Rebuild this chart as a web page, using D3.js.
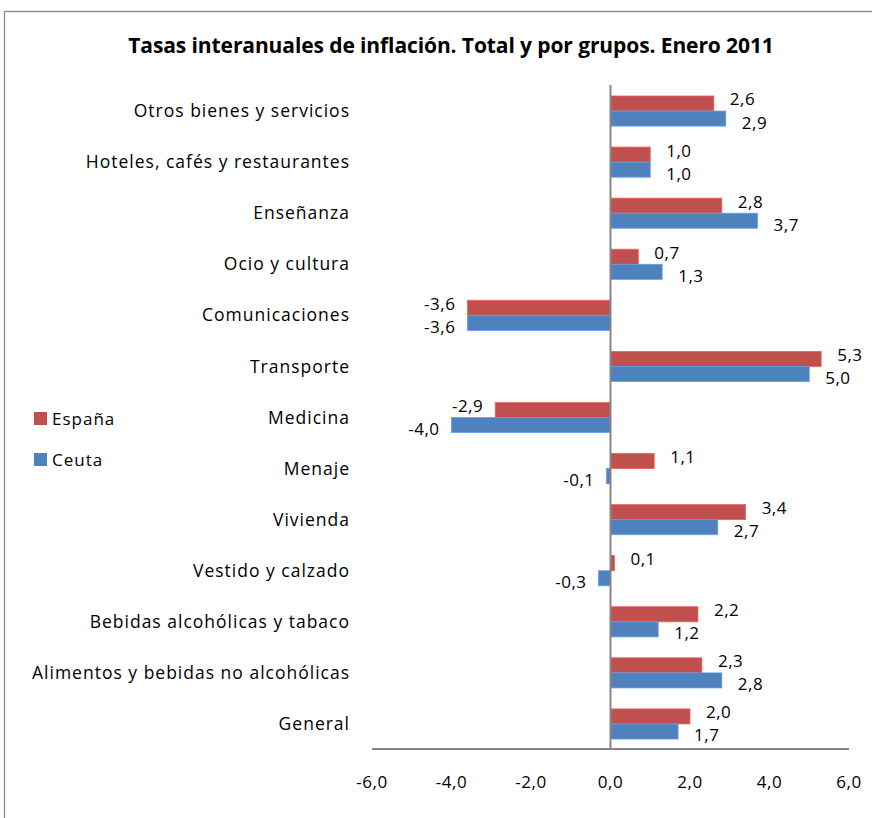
<!DOCTYPE html>
<html>
<head>
<meta charset="utf-8">
<script src="https://cdn.jsdelivr.net/npm/d3@7"></script>
<style>
  html, body { margin: 0; padding: 0; background: #fff; }
  svg { display: block; }
  text { font-family: "Open Sans", Lato, sans-serif; fill: #000; }
</style>
</head>
<body>
<script>
const title = "Tasas interanuales de inflación. Total y por grupos. Enero 2011";
const categories = [
  "Otros bienes y servicios",
  "Hoteles, cafés y restaurantes",
  "Enseñanza",
  "Ocio y cultura",
  "Comunicaciones",
  "Transporte",
  "Medicina",
  "Menaje",
  "Vivienda",
  "Vestido y calzado",
  "Bebidas alcohólicas y tabaco",
  "Alimentos y bebidas no alcohólicas",
  "General"
];
const espana = [2.6, 1.0, 2.8, 0.7, -3.6, 5.3, -2.9, 1.1, 3.4, 0.1, 2.2, 2.3, 2.0];
const ceuta  = [2.9, 1.0, 3.7, 1.3, -3.6, 5.0, -4.0, -0.1, 2.7, -0.3, 1.2, 2.8, 1.7];
const seriesNames = ["España", "Ceuta"];
const seriesColors = ["#C0504D", "#4F81BD"];
const xTicks = [-6, -4, -2, 0, 2, 4, 6];

const W = 872, H = 818;
const svg = d3.select("body").append("svg").attr("width", W).attr("height", H);

// chart border
svg.append("rect").attr("x", 4.5).attr("y", 11.5).attr("width", W + 10).attr("height", H + 10)
  .attr("fill", "none").attr("stroke", "#888").attr("stroke-width", 1.3);

svg.append("text").attr("x", 451).attr("y", 53).attr("text-anchor", "middle")
  .style("font-weight", "bold").style("font-size", "21px").style("letter-spacing", "-0.1px")
  .text(title);

const x = d3.scaleLinear().domain([-6, 6]).range([372, 849]);
const y = d3.scaleBand().domain(categories).range([85.5, 749.5])
  .paddingInner(0.41).paddingOuter(0.205);
const bh = y.bandwidth() / 2;

const fmt = v => d3.format(".1f")(v).replace(".", ",").replace("\u2212", "-");

const series = [espana, ceuta];
series.forEach((vals, si) => {
  const g = svg.append("g");
  g.selectAll("rect").data(categories).join("rect")
    .attr("x", (c, i) => Math.min(x(0), x(vals[i])))
    .attr("y", c => y(c) + si * bh)
    .attr("width", (c, i) => Math.abs(x(vals[i]) - x(0)))
    .attr("height", bh)
    .attr("fill", seriesColors[si])
    .attr("stroke", d3.color(seriesColors[si]).brighter(0.6))
    .attr("stroke-width", 0.8);
  g.selectAll("text").data(categories).join("text")
    .attr("x", (c, i) => vals[i] >= 0 ? x(vals[i]) + 16 : x(vals[i]) - 12)
    .attr("y", (c, i) => y(c) + si * bh + bh / 2 + (si === 1 ? 4 : -4))
    .attr("dy", "0.35em")
    .attr("text-anchor", (c, i) => vals[i] >= 0 ? "start" : "end")
    .style("font-size", "17px").style("letter-spacing", "0.5px")
    .text((c, i) => fmt(vals[i]));
});

// zero line
svg.append("line").attr("x1", x(0)).attr("x2", x(0)).attr("y1", 85).attr("y2", 749.5)
  .attr("stroke", "#868686").attr("stroke-width", 2);
// bottom axis line
svg.append("line").attr("x1", x(-6)).attr("x2", x(6)).attr("y1", 749).attr("y2", 749)
  .attr("stroke", "#868686").attr("stroke-width", 2);

// tick labels
svg.append("g").selectAll("text").data(xTicks).join("text")
  .attr("x", d => x(d)).attr("y", 782).attr("dy", "0.35em")
  .attr("text-anchor", "middle").style("font-size", "17px").style("letter-spacing", "0.5px")
  .text(d => fmt(d));

// category labels
svg.append("g").selectAll("text").data(categories).join("text")
  .attr("x", 350).attr("y", c => y(c) + y.bandwidth() / 2).attr("dy", "0.35em")
  .attr("text-anchor", "end").style("font-size", "17.5px").style("letter-spacing", "1px")
  .text(c => c);

// legend
const leg = svg.append("g");
seriesNames.forEach((n, i) => {
  leg.append("rect").attr("x", 34).attr("y", 412 + i * 41).attr("width", 13).attr("height", 13)
    .attr("fill", seriesColors[i]);
  leg.append("text").attr("x", 52).attr("y", 419 + i * 41).attr("dy", "0.35em")
    .style("font-size", "17px").style("letter-spacing", "1px").text(n);
});
</script>
</body>
</html>
